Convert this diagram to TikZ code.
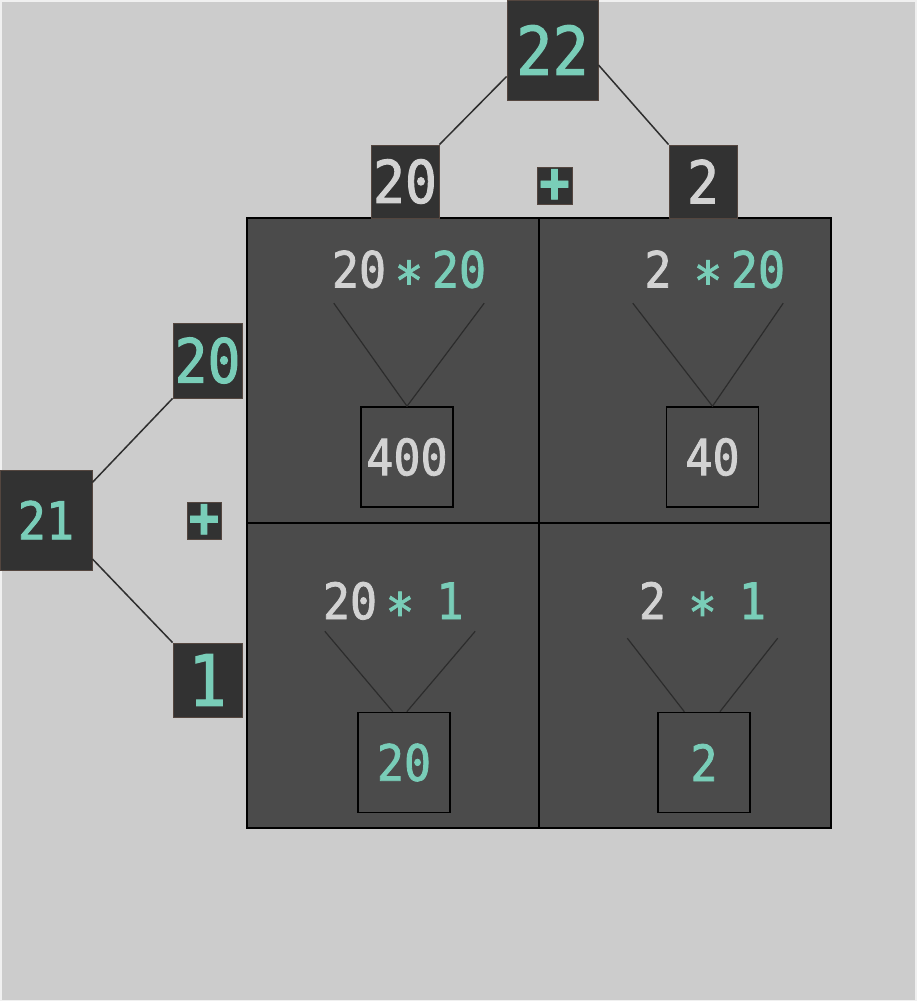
\documentclass[tikz,border=0pt]{standalone}
\usepackage{fontspec}
\setmonofont{DejaVu Sans Mono}[FakeStretch=0.9,FakeBold=1.6]
\usetikzlibrary{calc}
\definecolor{bggray}{HTML}{CCCCCC}
\definecolor{boxdark}{HTML}{323232}
\definecolor{boxedge}{HTML}{54463F}
\definecolor{cellgray}{HTML}{4B4B4B}
\definecolor{numteal}{HTML}{79CDB8}
\definecolor{numgray}{HTML}{D2D2D2}
\definecolor{wiregray}{HTML}{2C2C2C}
\newcommand{\digits}[1]{\fontsize{#1}{#1}\selectfont\ttfamily}
\newcommand{\mulexpr}[2]{\makebox[50pt]{\color{numgray}#1}\makebox[50pt]{\color{numteal}\raisebox{-12pt}{\digits{53}*}}\makebox[50pt]{\color{numteal}#2}}

\begin{document}
\begin{tikzpicture}[x=1pt,y=-1pt]
    \tikzstyle{number} = [draw=boxedge,fill=boxdark,inner sep=0pt,line width=0.8pt]
    \tikzstyle{plus} = [number,minimum width=35pt,minimum height=37pt,text=numteal,font=\digits{56}\bfseries]
    \tikzstyle{cell} = [draw=black,fill=cellgray,line width=2pt,minimum width=292pt,minimum height=305pt]
    \tikzstyle{product} = [draw=black,line width=1.6pt,inner sep=0pt,minimum width=92pt,minimum height=100pt,font=\digits{50}]
    \tikzstyle{expr} = [inner sep=0pt,minimum width=146pt,font=\digits{50}]
    \tikzstyle{wire} = [draw=wiregray,line width=1.2pt]
    \tikzstyle{edge} = [draw=black!82,line width=1.5pt]
      \useasboundingbox (0,0) rectangle (916,1001);
      \draw[fill=bggray,draw=white!88!gray,line width=3pt] (0,0) rectangle (916,1001);
      % the four cells of the area model
      \node[cell] (cellA) at (393,370.5) {};
      \node[cell] (cellB) at (685,370.5) {};
      \node[cell] (cellC) at (393,675.5) {};
      \node[cell] (cellD) at (685,675.5) {};
      \node[number,minimum width=91pt,minimum height=100pt,text=numteal,font=\digits{67}] (sumTop) at (552.5,50) {22};
      \node[number,minimum width=68pt,minimum height=73pt,text=numgray,font=\digits{59}] (topA) at (405,181.5) {20};
      \node[number,minimum width=68pt,minimum height=73pt,text=numgray,font=\digits{59}] (topB) at (703,181.5) {2};
      \node[plus] (plusTop) at (554.5,185.5) {+};
      \node[number,minimum width=92pt,minimum height=100pt,text=numteal,font=\digits{52}] (sumLeft) at (46,520) {21};
      \node[number,minimum width=69pt,minimum height=75pt,text=numteal,font=\digits{61}] (leftA) at (207.5,360.5) {20};
      \node[number,minimum width=69pt,minimum height=74pt,text=numteal,font=\digits{71}] (leftB) at (207.5,680) {1};
      \node[plus,minimum width=34pt] (plusLeft) at (204,520.5) {+};
      \draw[edge] (sumTop.210) -- (topA.north east);
      \draw[edge] (sumTop.-18) -- (topB.north west);
      \draw[edge] (sumLeft.39) -- (leftA.south west);
      \draw[edge] (sumLeft.-40) -- (leftB.north west);
      % products
      \node[expr,minimum height=56pt] (exprA) at (409,275) {\mulexpr{20}{20}};
      \node[expr,minimum height=56pt] (exprB) at (708,275) {\mulexpr{2}{20}};
      \node[expr,minimum height=37pt] (exprC) at (400,606.5) {\mulexpr{20}{1}};
      \node[expr,minimum height=63pt] (exprD) at (702.5,606.5) {\mulexpr{2}{1}};
      \node[product,text=numgray] (prodA) at (407,457) {400};
      \node[product,text=numgray] (prodB) at (712.5,457) {40};
      \node[product,text=numteal] (prodC) at (404,762.5) {20};
      \node[product,text=numteal] (prodD) at (704,762.5) {2};
      \foreach \c in {A,B} \draw[wire] (expr\c.south west) -- (prod\c.north) -- (expr\c.south east);
      \draw[wire] (exprC.south west) -- ($ (prodC.north west)!.38!(prodC.north east) $);
      \draw[wire] (exprC.south east) -- ($ (prodC.north west)!.53!(prodC.north east) $);
      \draw[wire] (exprD.south west) -- ($ (prodD.north west)!.29!(prodD.north east) $);
      \draw[wire] (exprD.south east) -- ($ (prodD.north west)!.67!(prodD.north east) $);
  \end{tikzpicture}
\end{document}
